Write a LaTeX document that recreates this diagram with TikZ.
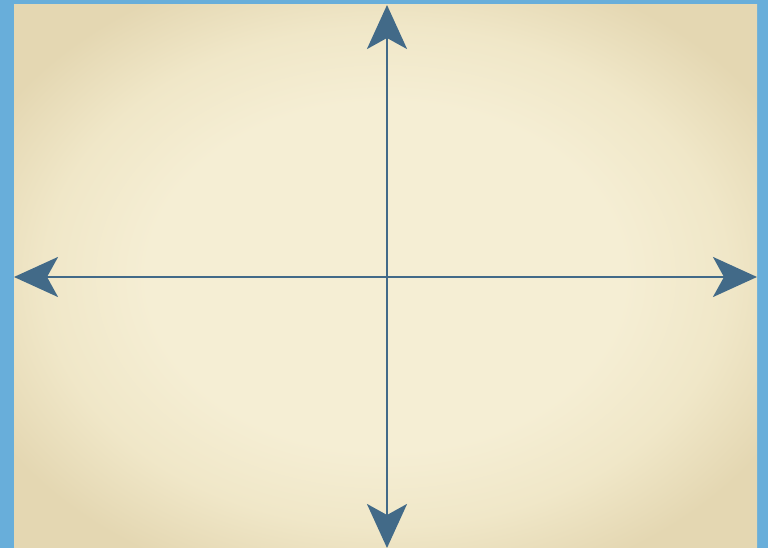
\documentclass[tikz,border=0pt]{standalone}
\usetikzlibrary{arrows.meta}
\definecolor{ciel}{RGB}{104,174,218}
\definecolor{papier}{RGB}{245,238,212}
\definecolor{creme}{RGB}{240,231,200}
\definecolor{bord}{RGB}{228,215,178}
\pgfdeclareradialshading{feuille}{\pgfpoint{0bp}{0bp}}{color(0bp)=(papier); color(16bp)=(papier); color(23bp)=(creme); color(30bp)=(bord); color(50bp)=(bord)}
\begin{document}
\begin{tikzpicture}[x=1pt,y=1pt]
\definecolor{axe}{RGB}{66,106,136}
\tikzset{axis/.style={draw=axe,line width=2.6pt,-{Stealth[length=44pt,width=40pt,inset=11pt]}}}
% fond et feuille
\fill[ciel] (0,0) rectangle (768,548);
\useasboundingbox (0,0) rectangle (768,548);
\shade[shading=feuille] (14,0) rectangle (757,543);
% axes
\coordinate (origin) at (387,271);
\coordinate (top) at (387,543);
\coordinate (bottom) at (387,0);
\coordinate (left) at (14,271);
\coordinate (right) at (757,271);
\draw[axis] (origin) -- (top);
\draw[axis] (origin) -- (bottom);
\draw[axis] (origin) -- (left);
\draw[axis] (origin) -- (right);
\end{tikzpicture}
\end{document}
